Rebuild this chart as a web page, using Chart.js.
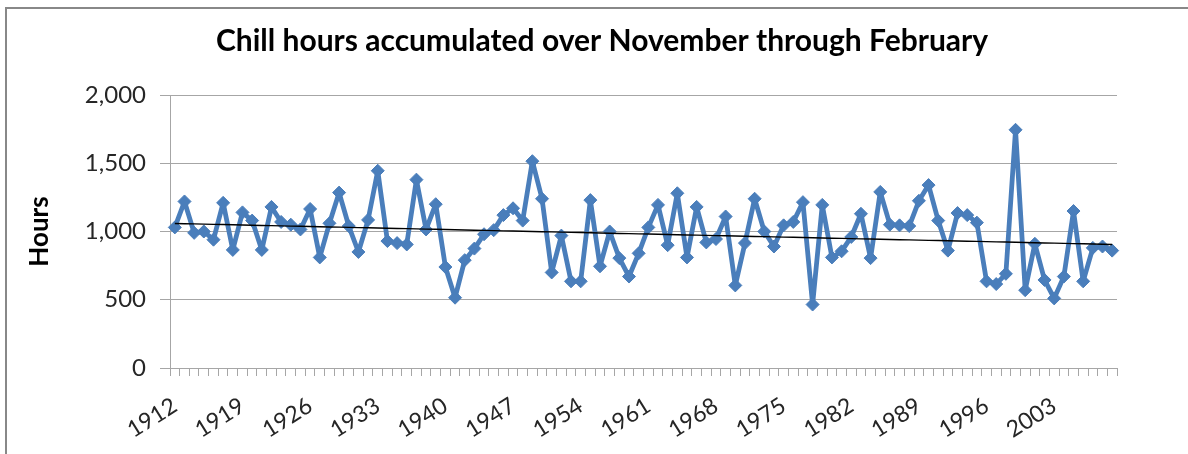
<!DOCTYPE html>
<html>
<head>
<meta charset="utf-8">
<script src="https://cdn.jsdelivr.net/npm/chart.js@4"></script>
<style>
  html, body { margin: 0; padding: 0; background: #fff; }
  #wrap { width: 1188px; height: 454px; }
</style>
</head>
<body>
<div id="wrap"><canvas id="c" width="1188" height="454"></canvas></div>
<script>
// ---- Data ----
const chartTitle = 'Chill hours accumulated over November through February';
const yAxisTitle = 'Hours';
const years = [
  1912,1913,1914,1915,1916,1917,1918,1919,1920,1921,
  1922,1923,1924,1925,1926,1927,1928,1929,1930,1931,
  1932,1933,1934,1935,1936,1937,1938,1939,1940,1941,
  1942,1943,1944,1945,1946,1947,1948,1949,1950,1951,
  1952,1953,1954,1955,1956,1957,1958,1959,1960,1961,
  1962,1963,1964,1965,1966,1967,1968,1969,1970,1971,
  1972,1973,1974,1975,1976,1977,1978,1979,1980,1981,
  1982,1983,1984,1985,1986,1987,1988,1989,1990,1991,
  1992,1993,1994,1995,1996,1997,1998,1999,2000,2001,
  2002,2003,2004,2005,2006,2007,2008,2009
];
const chillHours = [
  1030,1220, 990,1000, 940,1210, 865,1140,1080, 865,
  1180,1070,1050,1015,1165, 810,1060,1285,1040, 850,
  1085,1445, 930, 915, 905,1380,1015,1200, 740, 515,
   790, 875, 980,1010,1120,1170,1080,1515,1240, 700,
   970, 635, 635,1230, 745,1000, 805, 670, 840,1030,
  1195, 900,1280, 810,1180, 920, 945,1110, 605, 915,
  1240,1000, 890,1045,1070,1215, 465,1195, 810, 855,
   960,1130, 805,1290,1050,1045,1040,1225,1340,1080,
   860,1135,1120,1065, 635, 615, 690,1745, 570, 910,
   645, 510, 670,1150, 635, 880, 890, 860
];
const xLabelYears = [1912,1919,1926,1933,1940,1947,1954,1961,1968,1975,1982,1989,1996,2003];
const yTicks = [0, 500, 1000, 1500, 2000];

// Linear least-squares trendline (as Excel's linear trendline)
function linearTrend(vals) {
  const n = vals.length;
  let sx = 0, sy = 0, sxx = 0, sxy = 0;
  vals.forEach((v, i) => { sx += i; sy += v; sxx += i * i; sxy += i * v; });
  const b = (n * sxy - sx * sy) / (n * sxx - sx * sx);
  const a = (sy - b * sx) / n;
  return vals.map((_, i) => a + b * i);
}
const trend = linearTrend(chillHours);

const GRID = '#a6a6a6';
const BLUE = '#4A7EBB';
const FONT = 'Lato, "Open Sans", "Liberation Sans", sans-serif';

const framePlugin = {
  id: 'frame',
  beforeDraw(chart) {
    const c = chart.ctx;
    c.save();
    c.fillStyle = '#fff';
    c.fillRect(0, 0, chart.width, chart.height);
    c.strokeStyle = '#888888';
    c.lineWidth = 2;
    c.beginPath();
    c.moveTo(6, chart.height + 2);
    c.lineTo(6, 8);
    c.lineTo(chart.width + 2, 8);
    c.stroke();
    c.restore();
  }
};

new Chart(document.getElementById('c'), {
  type: 'line',
  data: {
    labels: years.map(String),
    datasets: [
      {
        label: 'Linear trend',
        data: trend,
        borderColor: '#000000',
        borderWidth: 1.4,
        pointRadius: 0,
        tension: 0,
        order: 0
      },
      {
        label: 'Chill hours',
        data: chillHours,
        borderColor: BLUE,
        backgroundColor: BLUE,
        borderWidth: 4.8,
        borderJoinStyle: 'round',
        borderCapStyle: 'round',
        pointStyle: 'rectRot',
        pointRadius: 6.5,
        pointBorderWidth: 1,
        pointBorderColor: BLUE,
        pointBackgroundColor: BLUE,
        tension: 0,
        order: 1
      }
    ]
  },
  options: {
    responsive: false,
    animation: false,
    devicePixelRatio: 1,
    layout: { padding: { left: 16, right: 0, top: 0, bottom: 0 } },
    plugins: {
      legend: { display: false },
      tooltip: { enabled: false },
      title: {
        display: true,
        text: chartTitle,
        color: '#000',
        font: { family: FONT, size: 30, weight: 'bold' },
        padding: { top: 23, bottom: 36 }
      }
    },
    scales: {
      x: {
        type: 'category',
        offset: true,
        grid: {
          display: true,
          offset: true,
          drawOnChartArea: false,
          drawTicks: true,
          tickLength: 8,
          color: GRID,
          lineWidth: 1
        },
        border: { display: true, color: GRID, width: 1 },
        ticks: {
          autoSkip: false,
          maxRotation: 32,
          minRotation: 32,
          padding: 16,
          color: '#262626',
          font: { family: FONT, size: 23 },
          callback: function (value, index) {
            const yr = years[index];
            return xLabelYears.includes(yr) ? String(yr) : '';
          }
        },
        afterFit: s => { s.height = 86; }
      },
      y: {
        min: 0,
        max: 2000,
        afterBuildTicks: s => { s.ticks = yTicks.map(v => ({ value: v })); },
        grid: { color: GRID, lineWidth: 1, tickLength: 10, drawTicks: true },
        border: { display: true, color: GRID, width: 1 },
        ticks: {
          padding: 14,
          color: '#262626',
          font: { family: FONT, size: 24 },
          callback: v => Number(v).toLocaleString('en-US')
        },
        title: {
          display: true,
          text: yAxisTitle,
          color: '#000',
          font: { family: FONT, size: 26, weight: 'bold' },
          padding: { top: 8, bottom: 0 }
        },
        afterFit: s => { s.width = 154; }
      },
      yRight: {
        position: 'right',
        display: true,
        grid: { display: false, drawTicks: false },
        border: { display: false },
        ticks: { display: false },
        afterFit: s => { s.width = 71; }
      }
    }
  },
  plugins: [framePlugin]
});
</script>
</body>
</html>
